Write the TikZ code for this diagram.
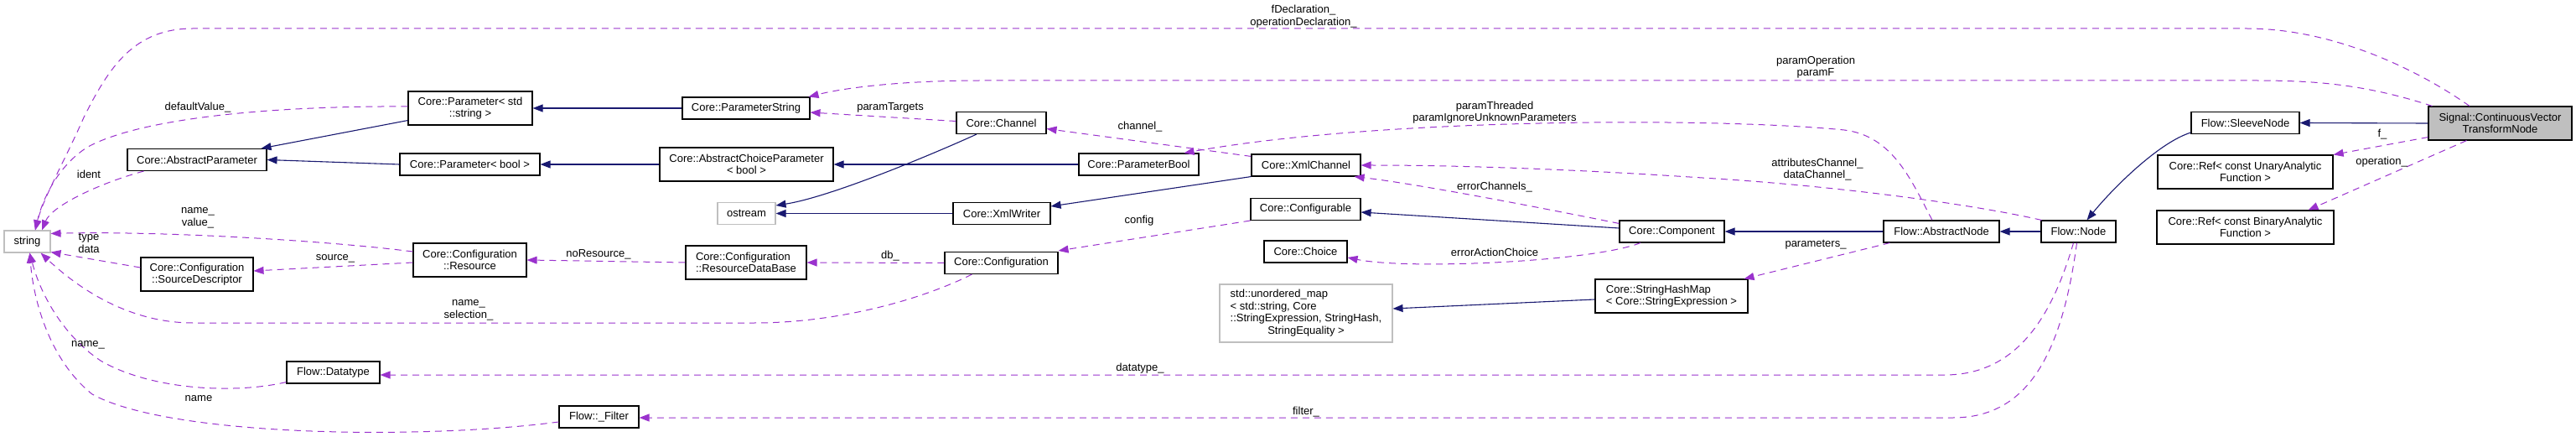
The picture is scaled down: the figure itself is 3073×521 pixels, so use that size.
\documentclass[tikz,border=0pt]{standalone}
\usepackage{fontspec}
\setmainfont{Liberation Sans}
\usetikzlibrary{arrows.meta}
\definecolor{inhc}{HTML}{191970}
\definecolor{usec}{HTML}{9A32CD}
\definecolor{extc}{HTML}{BFBFBF}
\tikzset{
  cls/.style={draw=black, line width=1.1pt, inner sep=0pt, align=center, fill=white,
    font=\fontsize{13}{14.5}\selectfont},
  ext/.style={cls, draw=extc},
  lbl/.style={inner sep=0pt, align=center, font=\fontsize{13}{14.5}\selectfont},
  inh/.style={draw=inhc, line width=1.1pt, -{Triangle[length=12pt,width=9pt]}},
  use/.style={draw=usec, line width=1pt, dash pattern=on 8pt off 6pt,
    -{Triangle[length=12pt,width=9pt]}},
}
\begin{document}
\begin{tikzpicture}[x=1pt,y=-1pt]
\useasboundingbox (0,0) rectangle (3073,521);
% ---------- nodes ----------
\node[cls, minimum width=148pt, minimum height=40pt] (pstd) at (561,129) {Core::Parameter< std\\::string >};
\node[cls, minimum width=166pt, minimum height=26pt] (absp) at (235,190.5) {Core::AbstractParameter};
\node[cls, minimum width=167pt, minimum height=26pt] (pbool) at (560.5,196) {Core::Parameter< bool >};
\node[ext, minimum width=55pt, minimum height=26pt] (string) at (32.5,288) {string};
\node[cls, minimum width=134pt, minimum height=40pt] (srcd) at (235,327) {Core::Configuration\\::SourceDescriptor};
\node[cls, minimum width=135pt, minimum height=40pt] (res) at (560.5,310) {Core::Configuration\\::Resource};
\node[cls, minimum width=111pt, minimum height=26pt] (dtype) at (397.5,444) {Flow::Datatype};
\node[cls, minimum width=95pt, minimum height=26pt] (filter) at (714.5,497) {Flow::\_Filter};
\node[cls, minimum width=152pt, minimum height=26pt] (pstr) at (890,129) {Core::ParameterString};
\node[cls, minimum width=107pt, minimum height=26pt] (chan) at (1194.5,146.5) {Core::Channel};
\node[cls, minimum width=207pt, minimum height=40pt] (acp) at (890.5,196) {Core::AbstractChoiceParameter\\< bool >};
\node[cls, minimum width=143pt, minimum height=26pt] (pbo) at (1358.5,196) {Core::ParameterBool};
\node[ext, minimum width=69pt, minimum height=26pt] (ostream) at (890.5,254.5) {ostream};
\node[cls, minimum width=116pt, minimum height=26pt] (xmlw) at (1195,254.5) {Core::XmlWriter};
\node[cls, minimum width=144pt, minimum height=40pt, align=left] (rdb) at (890,313) {Core::Configuration\\::ResourceDataBase};
\node[cls, minimum width=135pt, minimum height=26pt] (conf) at (1194.5,313.5) {Core::Configuration};
\node[ext, minimum width=206pt, minimum height=69pt] (umap) at (1558,373.5)
  {\begin{tabular}{@{}l@{}}std::unordered\_map\\< std::string, Core\\::StringExpression, StringHash,\\\multicolumn{1}{@{}c@{}}{StringEquality >}\end{tabular}};
\node[cls, minimum width=130pt, minimum height=26pt] (xmlc) at (1558,197) {Core::XmlChannel};
\node[cls, minimum width=131pt, minimum height=26pt] (cfgb) at (1557.5,249.5) {Core::Configurable};
\node[cls, minimum width=99pt, minimum height=26pt] (choice) at (1557.5,300) {Core::Choice};
\node[cls, minimum width=125pt, minimum height=26pt] (comp) at (1994.5,276) {Core::Component};
\node[cls, minimum width=182pt, minimum height=40pt, align=left] (shm) at (1994,353) {Core::StringHashMap\\< Core::StringExpression >};
\node[cls, minimum width=138pt, minimum height=26pt] (anode) at (2316,276) {Flow::AbstractNode};
\node[cls, minimum width=89pt, minimum height=26pt] (fnode) at (2479.5,276) {Flow::Node};
\node[cls, minimum width=129pt, minimum height=26pt] (sleeve) at (2678.5,146.5) {Flow::SleeveNode};
\node[cls, minimum width=171pt, minimum height=40pt, fill=extc] (sig) at (2982.5,147) {Signal::ContinuousVector\\TransformNode};
\node[cls, minimum width=209pt, minimum height=40pt] (unary) at (2678.5,205) {Core::Ref< const UnaryAnalytic\\Function >};
\node[cls, minimum width=211pt, minimum height=40pt] (binary) at (2678.5,271) {Core::Ref< const BinaryAnalytic\\Function >};
% ---------- inheritance ----------
\draw[inh] ([yshift=6pt]pstd.south west) -- ([xshift=-7pt]absp.north east);
\draw[inh] (pbool.west) -- (absp.east);
\draw[inh] (pstr.west) -- (pstd.east);
\draw[inh] (acp.west) -- (pbool.east);
\draw[inh] (pbo.west) -- (acp.east);
\draw[inh] ([xshift=-29.5pt]chan.south) .. controls (1110,185) and (990,235) .. ([yshift=9.5pt]ostream.east);
\draw[inh] (xmlw.west) -- (ostream.east);
\draw[inh] (xmlc.south west) -- ([yshift=8.5pt]xmlw.east);
\draw[inh] ([yshift=4pt]comp.west) -- ([yshift=-3.5pt]cfgb.east);
\draw[inh] (anode.west) -- (comp.east);
\draw[inh] (fnode.west) -- (anode.east);
\draw[inh] ([yshift=2pt]sleeve.south west) .. controls (2575,170) and (2520,225) .. ([xshift=10pt]fnode.north);
\draw[inh] (sig.west) -- (sleeve.east);
\draw[inh] ([yshift=-4pt]shm.west) -- ([yshift=5.5pt]umap.east);
% ---------- usage ----------
\draw[use] ([xshift=20pt]absp.south west) .. controls (120,218) and (62,245) .. ([xshift=17.5pt]string.north);
\draw[use] ([yshift=2pt]pstd.west) .. controls (330,126) and (170,140) .. (105,175) .. controls (68,198) and (50,240) .. ([xshift=9.5pt]string.north);
\draw[use] ([xshift=-36.5pt]sig.north) .. controls (2880,80) and (2780,34) .. (2680,34) -- (230,34) .. controls (160,34) and (130,80) .. (100,140) .. controls (78,190) and (52,235) .. ([xshift=9.5pt]string.north);
\draw[use] ([xshift=-81pt]sig.north) .. controls (2820,100) and (2760,96) .. (2690,96) -- (1170,96) .. controls (1080,96) and (1010,104) .. ([xshift=-2pt]pstr.north east);
\draw[use] ([yshift=2pt]chan.west) -- ([yshift=-5pt]pstr.east);
\draw[use] ([yshift=-3pt]xmlc.north west) -- ([yshift=-7pt]chan.east);
\draw[use] ([xshift=-11pt]anode.north) .. controls (2280,215) and (2258,162) .. (2200,155) .. controls (2050,140) and (1650,140) .. ([xshift=-18pt]pbo.north east);
\draw[use] ([xshift=1pt]fnode.north west) .. controls (2360,245) and (2200,222) .. (2031,212) .. controls (1850,200) and (1720,197) .. (xmlc.east);
\draw[use] ([yshift=-4pt]comp.north west) .. controls (1800,240) and (1680,218) .. ([xshift=-8pt]xmlc.south east);
\draw[use] ([xshift=-37.5pt]comp.south) .. controls (1900,312) and (1680,322) .. ([yshift=-7pt]choice.east);
\draw[use] (cfgb.south west) -- ([yshift=1pt]conf.north east);
\draw[use] (conf.west) -- (rdb.east);
\draw[use] (rdb.west) -- (res.east);
\draw[use] ([yshift=-3pt]res.west) -- ([yshift=4pt]srcd.east);
\draw[use] ([yshift=10pt]res.west) .. controls (400,288) and (200,275) .. ([yshift=-4pt]string.north east);
\draw[use] ([yshift=8pt]srcd.west) -- ([yshift=1pt]string.south east);
\draw[use] ([xshift=-35pt]conf.south) .. controls (1100,357) and (1000,385) .. (900,385) -- (230,385) .. controls (160,385) and (100,350) .. ([xshift=-12pt]string.south east);
\draw[use] ([xshift=-6pt]fnode.south) .. controls (2450,370) and (2410,447) .. (2320,447) -- ([yshift=-3pt]dtype.east);
\draw[use] ([xshift=-2pt]fnode.south) .. controls (2460,420) and (2420,498) .. (2330,498) -- ([yshift=-1pt]filter.east);
\draw[use] ([yshift=2pt]dtype.south west) .. controls (280,470) and (180,465) .. (120,430) .. controls (75,400) and (48,350) .. ([xshift=3pt]string.south);
\draw[use] ([yshift=-6pt]filter.west) .. controls (500,525) and (200,520) .. (110,470) .. controls (60,430) and (40,360) .. ([xshift=3pt]string.south);
\draw[use] ([xshift=8pt]anode.south west) -- ([xshift=-5pt]shm.north east);
\draw[use] ([yshift=4pt]sig.south west) -- (unary.north east);
\draw[use] ([xshift=-40pt]sig.south) -- ([xshift=75pt]binary.north);
% ---------- labels ----------
\node[lbl] (l1) at (1555,19.5) {fDeclaration\_\\operationDeclaration\_};
\node[lbl] (l2) at (2166,80) {paramOperation\\paramF};
\node[lbl] (l3) at (1783,134) {paramThreaded\\paramIgnoreUnknownParameters};
\node[lbl] (l4) at (2168,202) {attributesChannel\_\\dataChannel\_};
\node[lbl] (l5) at (1783,223) {errorChannels\_};
\node[lbl] (l6) at (1783,301) {errorActionChoice};
\node[lbl] (l7) at (2166,292) {parameters\_};
\node[lbl] (l8) at (1558,491) {filter\_};
\node[lbl] (l9) at (1360,439) {datatype\_};
\node[lbl] (l10) at (1359,263) {config};
\node[lbl] (l11) at (1062,305) {db\_};
\node[lbl] (l12) at (1360,151) {channel\_};
\node[lbl] (l13) at (1062,128) {paramTargets};
\node[lbl] (l14) at (714,303) {noResource\_};
\node[lbl] (l15) at (400,308) {source\_};
\node[lbl] (l16) at (236,260) {name\_\\value\_};
\node[lbl] (l17) at (106,290) {type\\data};
\node[lbl] (l18) at (559,370) {name\_\\selection\_};
\node[lbl] (l19) at (105,411) {name\_};
\node[lbl] (l20) at (237,475) {name};
\node[lbl] (l21) at (236,128) {defaultValue\_};
\node[lbl] (l22) at (106,208) {ident};
\node[lbl] (l23) at (2842,160) {f\_};
\node[lbl] (l24) at (2841,193) {operation\_};
\end{tikzpicture}
\end{document}
